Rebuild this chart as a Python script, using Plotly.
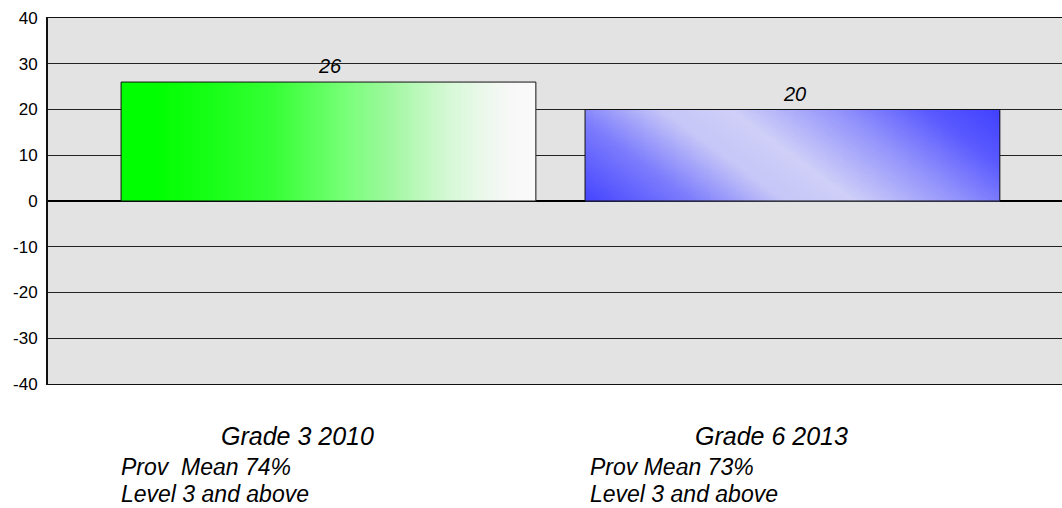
import numpy as np
import plotly.graph_objects as go

# ---- data ----
categories = ["Grade 3 2010", "Grade 6 2013"]
sub_line1 = ["Prov  Mean 74%", "Prov Mean 73%"]
sub_line2 = ["Level 3 and above", "Level 3 and above"]
values = [26, 20]
y_ticks = [-40, -30, -20, -10, 0, 10, 20, 30, 40]

# ---- styling ----
FONT = "Liberation Sans, Arial, sans-serif"
positions = list(range(len(categories)))
bar_w = 0.894

green_scale = [[0, "#00ff00"], [0.08, "#00ff00"], [0.2, "#14ff14"], [0.37, "#36ff36"],
               [0.46, "#58ff58"], [0.55, "#7cff7c"], [0.63, "#98f898"], [0.71, "#b8f8b8"],
               [0.79, "#d6f8d6"], [0.87, "#eaf8ea"], [0.94, "#f8f8f8"], [1, "#fafafa"]]
blue_scale = [[0, "#4444ff"], [0.2, "#7c7cfd"], [0.37, "#c6c6f8"], [0.5, "#cfcff8"],
              [0.7, "#9292fc"], [0.86, "#5a5aff"], [1, "#4040ff"]]

fig = go.Figure()

N = 220
for i, (p, v) in enumerate(zip(positions, values)):
    xe = np.linspace(p - bar_w / 2, p + bar_w / 2, N + 1)
    u = (np.arange(N) + 0.5) / N
    if i == 0:
        ye = np.array([0, v])
        z = [u.tolist()]
        cs = green_scale
    else:
        M = 60
        ye = np.linspace(0, v, M + 1)
        vv = (np.arange(M) + 0.5) / M
        z = ((u[None, :] + 0.30 * vv[:, None]) / 1.30).tolist()
        cs = blue_scale
    fig.add_trace(go.Heatmap(x=xe, y=ye, z=z, colorscale=cs, zmin=0, zmax=1,
                             showscale=False, hoverinfo="skip"))

fig.add_trace(go.Bar(x=positions, y=values, width=bar_w,
                     marker=dict(color="rgba(0,0,0,0)", line=dict(color="#111111", width=1)),
                     hoverinfo="skip", showlegend=False))

# value labels
for p, v in zip(positions, values):
    fig.add_annotation(x=p, y=v, text=str(v), showarrow=False, yanchor="middle", yshift=16,
                       xshift=2, font=dict(family=FONT, size=20, color="black", style="italic"))

# category labels
cat_shift = [-31, -21]
sub_shift = [0, 5]
for p, c, s1, s2, cx, sx in zip(positions, categories, sub_line1, sub_line2, cat_shift, sub_shift):
    fig.add_annotation(x=p, xref="x", y=(384 - 436) / 366, yref="paper", text=c,
                       showarrow=False, xanchor="center", yanchor="middle", xshift=cx,
                       font=dict(family=FONT, size=25, color="black", style="italic"))
    for txt, py in ((s1, 467), (s2, 494)):
        fig.add_annotation(x=p - bar_w / 2, xref="x", y=(384 - py) / 366, yref="paper", text=txt,
                           showarrow=False, xanchor="left", yanchor="middle", align="left",
                           xshift=sx - 2,
                           font=dict(family=FONT, size=23, color="black", style="italic"))

fig.update_layout(
    width=1062, height=508,
    margin=dict(l=48, r=0, t=18, b=124, autoexpand=False),
    paper_bgcolor="white", plot_bgcolor="#e3e3e3",
    showlegend=False,
    xaxis=dict(range=[-0.6045, 1.581], showticklabels=False, showgrid=False, zeroline=False,
               showline=True, mirror=True, linecolor="#111111", linewidth=1, ticks=""),
    yaxis=dict(range=[-40, 40], tickvals=y_ticks, ticktext=[str(t) for t in y_ticks],
               showgrid=True, gridcolor="#222222", gridwidth=1,
               zeroline=True, zerolinecolor="black", zerolinewidth=2,
               showline=True, linecolor="#111111", linewidth=2, ticks="",
               ticklabelstandoff=5,
               tickfont=dict(family=FONT, size=17, color="black")),
)

fig.write_html("out.html", config={"displayModeBar": False},
               post_script="document.body.style.margin='0';")
